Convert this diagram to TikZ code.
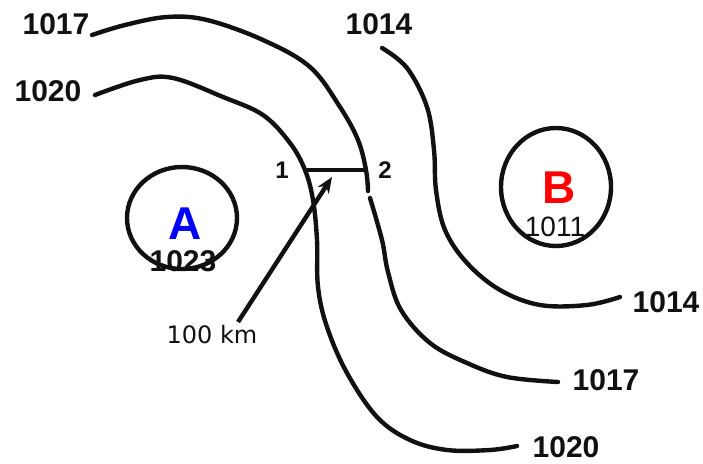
\documentclass[tikz,border=0pt]{standalone}
\usepackage{fontspec}
\setmainfont{Liberation Sans}
\newfontfamily\kmfont{DejaVu Sans}
\usetikzlibrary{arrows.meta}
\definecolor{highblue}{HTML}{0000FF}
\definecolor{lowred}{HTML}{FF0000}
\definecolor{isoblack}{HTML}{111111}

\begin{document}
\begin{tikzpicture}[x=1pt, y=-1pt,
  isobar/.style={draw=isoblack, line width=4.4pt, line cap=round, line join=round},
  isolabel/.style={inner sep=0pt, text=isoblack, font=\fontsize{30}{30}\selectfont\bfseries},
  cellname/.style={inner sep=0pt, font=\fontsize{46}{46}\selectfont\bfseries},
  ptlabel/.style={inner sep=0pt, text=isoblack, font=\fontsize{24}{24}\selectfont\bfseries}]
  \useasboundingbox[fill=white] (0,0) rectangle (703,463);

  % isobars
  \draw[isobar] plot[smooth, tension=0.6] coordinates {(92,35) (125,25) (167,17) (207,20) (263,40) (310,67) (340,107) (358,140) (366,170) (368,191)};
  \draw[isobar] plot[smooth, tension=0.6] coordinates {(370,198) (382,240) (388,272) (401,310) (430,343) (467,363) (507,377) (558,382)};
  \draw[isobar] plot[smooth, tension=0.6] coordinates {(95,95) (140,80) (173,78) (223,97) (263,115) (290,143) (305,170) (313,200) (317,240) (318,287) (327,327) (347,373) (377,417) (410,440) (447,450) (490,450) (517,446)};
  \draw[isobar] plot[smooth, tension=0.6] coordinates {(382,48) (407,68) (427,107) (434,150) (436,190) (445,230) (467,263) (500,290) (540,305) (587,305) (620,297)};

  \node[isolabel] (lab1017a) at (56,24) {1017};
  \node[isolabel] (lab1020a) at (48,91) {1020};
  \node[isolabel] (lab1014a) at (379,24) {1014};
  \node[isolabel] (lab1014b) at (666,302) {1014};
  \node[isolabel] (lab1017b) at (606,380) {1017};
  \node[isolabel] (lab1020b) at (566,447) {1020};

  % high and low
  \draw[isobar] (182,218) ellipse [x radius=55pt, y radius=51pt];
  \draw[isobar] (556,187) ellipse [x radius=55pt, y radius=59pt];
  \node[cellname, text=highblue] (high) at (185,224) {A};
  \node[isolabel] (highp) at (183,261) {1023};
  \node[cellname, text=lowred] (low) at (559,188) {B};
  \node[isolabel, font=\fontsize{28}{28}\selectfont] (lowp) at (555,227) {1011};

  % distance 1-2
  \coordinate (pt1) at (307,170);
  \coordinate (pt2) at (367,170);
  \draw[draw=isoblack, line width=3.4pt] (pt1) -- (pt2);
  \node[ptlabel] (lab1) at (282,170) {1};
  \node[ptlabel] (lab2) at (385,170) {2};

  \node[inner sep=0pt, text=isoblack, font=\kmfont\fontsize{24}{24}\selectfont] (km) at (212,335) {100 km};
  \coordinate (kmtail) at (238,322);
  \coordinate (kmhead) at (332,177);
  \draw[draw=isoblack, line width=4.4pt, -{Stealth[length=16pt, width=13pt]}] (kmtail) -- (kmhead);
\end{tikzpicture}
\end{document}
